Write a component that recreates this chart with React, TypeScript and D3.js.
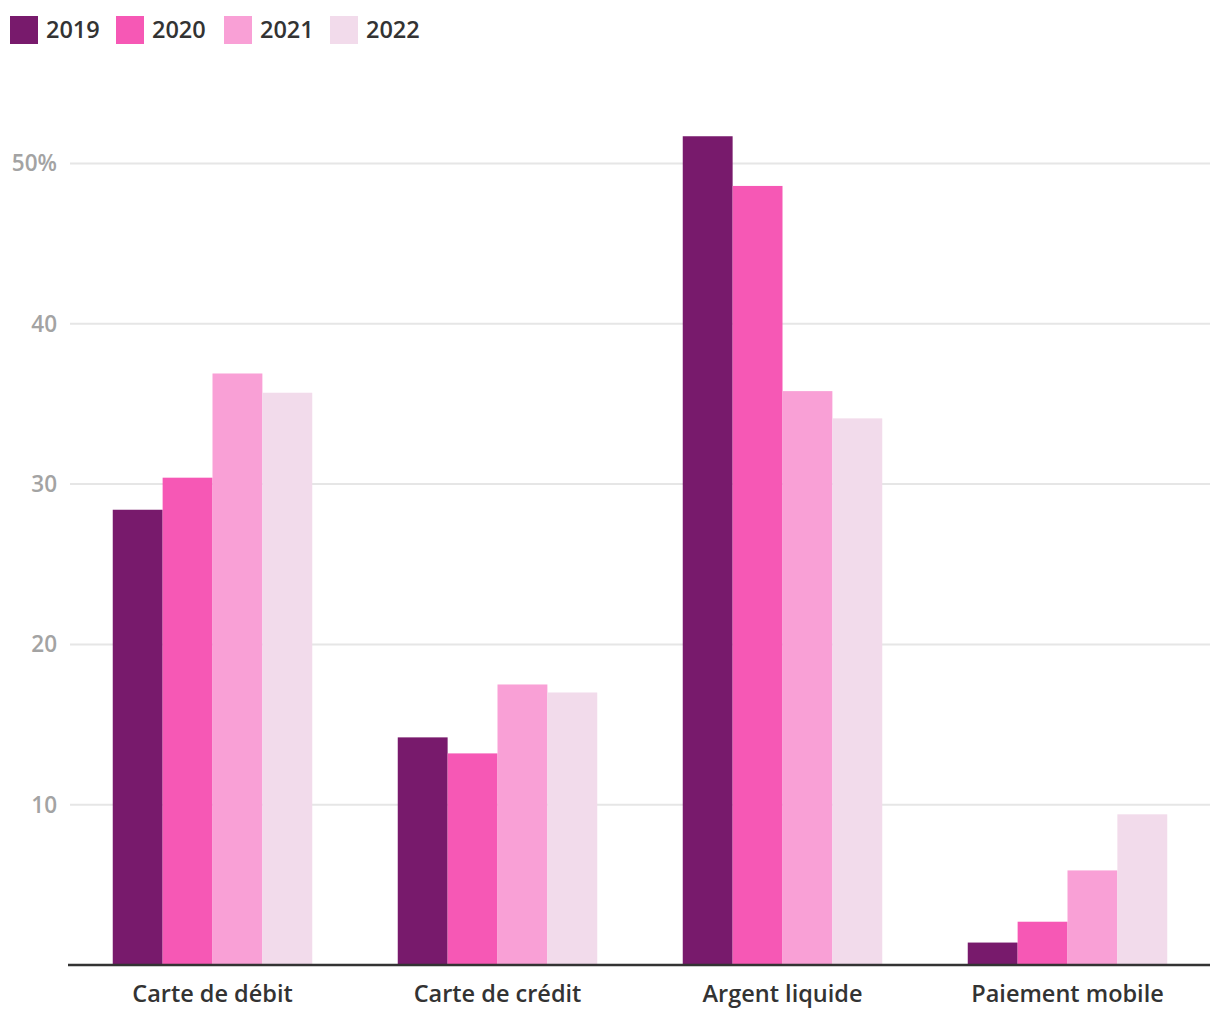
import React, { useEffect, useRef } from 'react';
import * as d3 from 'd3';

const categories = ['Carte de débit', 'Carte de crédit', 'Argent liquide', 'Paiement mobile'];
const years = ['2019', '2020', '2021', '2022'];
const values2019 = [28.4, 14.2, 51.7, 1.4];
const values2020 = [30.4, 13.2, 48.6, 2.7];
const values2021 = [36.9, 17.5, 35.8, 5.9];
const values2022 = [35.7, 17.0, 34.1, 9.4];
const yTicks = [10, 20, 30, 40, 50];
const colors = ['#781a6c', '#f658b5', '#f9a0d6', '#f2dbeb'];

const series = [values2019, values2020, values2021, values2022];

const App: React.FC = () => {
  const ref = useRef<SVGSVGElement | null>(null);

  useEffect(() => {
    if (!ref.current) return;
    const svg = d3.select(ref.current);
    svg.selectAll('*').remove();

    const W = 1220;
    const H = 1020;
    const margin = { top: 0, right: 10, bottom: 55, left: 70 };
    const font = "'Open Sans', 'Noto Sans', sans-serif";

    const x0 = d3.scaleBand().domain(categories).range([margin.left, W - margin.right]).paddingInner(0.3).paddingOuter(0.15);
    const x1 = d3.scaleBand().domain(years).range([0, x0.bandwidth()]);
    const y = d3.scaleLinear().domain([0, 50]).range([H - margin.bottom, H - margin.bottom - 801.5]);

    // gridlines
    const grid = svg.append('g');
    grid.selectAll('line')
      .data(yTicks)
      .enter()
      .append('line')
      .attr('x1', margin.left)
      .attr('x2', W - margin.right)
      .attr('y1', d => y(d))
      .attr('y2', d => y(d))
      .attr('stroke', '#e6e6e6')
      .attr('stroke-width', 2);

    grid.selectAll('text')
      .data(yTicks)
      .enter()
      .append('text')
      .attr('x', 57)
      .attr('y', d => y(d))
      .attr('dy', '0.35em')
      .attr('text-anchor', 'end')
      .attr('font-family', font)
      .attr('font-size', 22.5)
      .attr('font-weight', 600)
      .attr('fill', '#a3a3a3')
      .text(d => (d === 50 ? `${d}%` : `${d}`));

    // bars
    const groups = svg.append('g')
      .selectAll('g')
      .data(categories)
      .enter()
      .append('g')
      .attr('transform', d => `translate(${x0(d)},0)`);

    groups.selectAll('rect')
      .data((_, i) => years.map((yr, j) => ({ yr, v: series[j][i], j })))
      .enter()
      .append('rect')
      .attr('x', d => x1(d.yr)!)
      .attr('width', x1.bandwidth())
      .attr('y', d => y(d.v))
      .attr('height', d => y(0) - y(d.v))
      .attr('fill', d => colors[d.j]);

    // axis line
    svg.append('line')
      .attr('x1', 68)
      .attr('x2', W - margin.right)
      .attr('y1', y(0))
      .attr('y2', y(0))
      .attr('stroke', '#333')
      .attr('stroke-width', 2.5);

    // x labels
    svg.append('g')
      .selectAll('text')
      .data(categories)
      .enter()
      .append('text')
      .attr('x', d => x0(d)! + x0.bandwidth() / 2)
      .attr('y', 1002)
      .attr('text-anchor', 'middle')
      .attr('font-family', font)
      .attr('font-size', 23.5)
      .attr('font-weight', 600)
      .attr('fill', '#333')
      .text(d => d);

    // legend
    const legendX = [10, 116, 224, 330];
    const legend = svg.append('g')
      .selectAll('g')
      .data(years)
      .enter()
      .append('g')
      .attr('transform', (_, i) => `translate(${legendX[i]},16)`);
    legend.append('rect')
      .attr('width', 28)
      .attr('height', 28)
      .attr('fill', (_, i) => colors[i]);
    legend.append('text')
      .attr('x', 36)
      .attr('y', 14)
      .attr('dy', '0.35em')
      .attr('font-family', font)
      .attr('font-size', 23.5)
      .attr('font-weight', 600)
      .attr('fill', '#333')
      .text(d => d);
  }, []);

  return (
    <svg
      ref={ref}
      width={1220}
      height={1020}
      style={{ position: 'absolute', top: 0, left: 0, background: '#fff' }}
    />
  );
};

export default App;
